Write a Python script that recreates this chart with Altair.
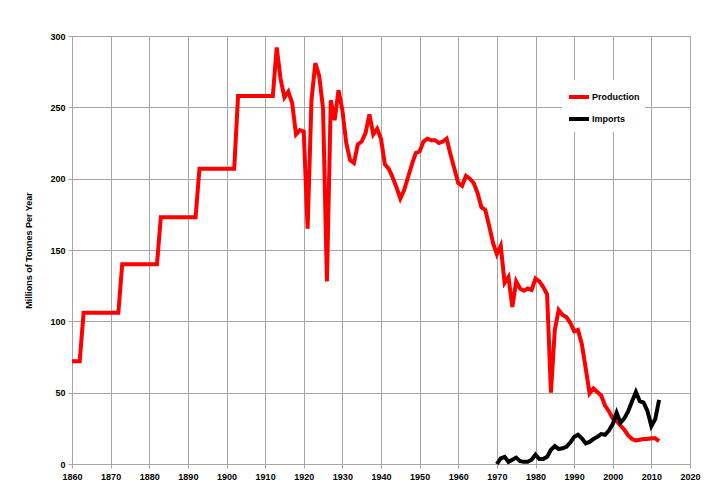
import altair as alt
import pandas as pd

# ---- data ----
prod_years = [1860, 1862, 1863, 1872, 1873, 1882, 1883, 1892, 1893, 1902, 1903, 1912,
              1913, 1914, 1915, 1916, 1917, 1918, 1919, 1920, 1921, 1922, 1923, 1924,
              1925, 1926, 1927, 1928, 1929, 1930, 1931, 1932, 1933, 1934, 1935, 1936,
              1937, 1938, 1939, 1940, 1941, 1942, 1943, 1944, 1945, 1946, 1947, 1948,
              1949, 1950, 1951, 1952, 1953, 1954, 1955, 1956, 1957, 1958, 1959, 1960,
              1961, 1962, 1963, 1964, 1965, 1966, 1967, 1968, 1969, 1970, 1971, 1972,
              1973, 1974, 1975, 1976, 1977, 1978, 1979, 1980, 1981, 1982, 1983, 1984,
              1985, 1986, 1987, 1988, 1989, 1990, 1991, 1992, 1993, 1994, 1995, 1996,
              1997, 1998, 1999, 2000, 2001, 2002, 2003, 2004, 2005, 2006, 2007, 2008,
              2009, 2010, 2011, 2012]
prod_values = [72, 72, 106, 106, 140, 140, 173, 173, 207, 207, 258, 258,
               292, 270, 257, 261, 253, 231, 234, 233, 165, 255, 281, 272,
               249, 128, 255, 241, 262, 248, 225, 213, 211, 224, 226, 232,
               245, 231, 235, 228, 210, 207, 201, 194, 186, 192, 201, 210,
               218, 219, 226, 228, 227, 227, 225, 226, 228, 217, 207, 197,
               195, 202, 200, 197, 190, 180, 178, 167, 155, 147, 153, 127,
               131, 110, 128, 123, 121.5, 123, 122, 130, 128, 124, 119, 50,
               94, 108, 104.5, 103, 99, 93, 94, 84, 67, 49.5, 53, 50.5,
               48, 41, 37, 32, 30, 27, 24, 20, 17.5, 16.5, 17, 17.5,
               17.5, 18, 18, 16]

imp_years = [1970, 1971, 1972, 1973, 1974, 1975, 1976, 1977, 1978, 1979, 1980,
             1981, 1982, 1983, 1984, 1985, 1986, 1987, 1988, 1989, 1990, 1991,
             1992, 1993, 1994, 1995, 1996, 1997, 1998, 1999, 2000, 2001, 2002,
             2003, 2004, 2005, 2006, 2007, 2008, 2009, 2010, 2011, 2012]
imp_values = [0, 4, 5, 1.5, 3, 4.5, 2, 1.5, 1.5, 3, 6.5,
              3.5, 3.5, 5, 10, 12.5, 10.5, 11, 12, 15, 19, 20.5,
              18, 14.5, 15.5, 17.5, 19, 21, 20.5, 23.5, 28, 36, 29,
              32, 37, 44, 50.5, 44, 43, 37, 26.5, 31.5, 45]

series_names = ["Production", "Imports"]
series_colors = ["#ff0000", "#000000"]
x_ticks = [1860, 1870, 1880, 1890, 1900, 1910, 1920, 1930, 1940,
           1950, 1960, 1970, 1980, 1990, 2000, 2010, 2020]
y_ticks = [0, 50, 100, 150, 200, 250, 300]
y_title = "Millions of Tonnes Per Year"

prod = pd.DataFrame({"Year": prod_years, "Value": prod_values, "Series": series_names[0]})
imp = pd.DataFrame({"Year": imp_years, "Value": imp_values, "Series": series_names[1]})

FONT = "Liberation Sans"
GRID = "#a6a6a6"

color = alt.Color(
    "Series:N",
    scale=alt.Scale(domain=series_names, range=series_colors),
    legend=alt.Legend(
        title=None, orient="none", legendX=490, legendY=44,
        fillColor="white", padding=5, symbolType="stroke", symbolSize=400,
        symbolStrokeWidth=4, labelFontSize=9, labelFontWeight="bold",
        labelFont=FONT, labelColor="#000000", rowPadding=2, labelOffset=1,
    ),
)

x = alt.X(
    "Year:Q",
    scale=alt.Scale(domain=[1860, 2020], nice=False, zero=False),
    axis=alt.Axis(values=x_ticks, format="d", title=None, labelFontSize=9,
                  labelFontWeight="bold", labelFont=FONT, labelColor="#000000",
                  tickSize=4, tickColor=GRID, domainColor=GRID, gridColor=GRID,
                  gridWidth=1, labelPadding=4, labelFlush=False),
)
y = alt.Y(
    "Value:Q",
    scale=alt.Scale(domain=[0, 300], nice=False),
    axis=alt.Axis(values=y_ticks, title=y_title, labelFontSize=9,
                  labelFontWeight="bold", labelFont=FONT, labelColor="#000000",
                  tickSize=4, tickColor=GRID, domainColor=GRID, gridColor=GRID,
                  gridWidth=1, labelPadding=3,
                  titleFont=FONT, titleFontSize=9, titleFontWeight="bold",
                  titleColor="#000000", titleX=-44, titleY=214, titleAngle=270,
                  titleAlign="center", titleBaseline="middle"),
)

line_p = alt.Chart(prod).mark_line(strokeWidth=4).encode(x=x, y=y, color=color)
line_i = alt.Chart(imp).mark_line(strokeWidth=4).encode(x=x, y=y, color=color)

chart = (
    alt.layer(line_p, line_i)
    .properties(width=618, height=428, autosize="none",
                padding={"left": 64, "top": 28, "right": 20, "bottom": 26},
                background="white")
    .configure_view(stroke=GRID, strokeWidth=1)
)

chart.save("out.html", embed_options={"renderer": "svg", "actions": False})
